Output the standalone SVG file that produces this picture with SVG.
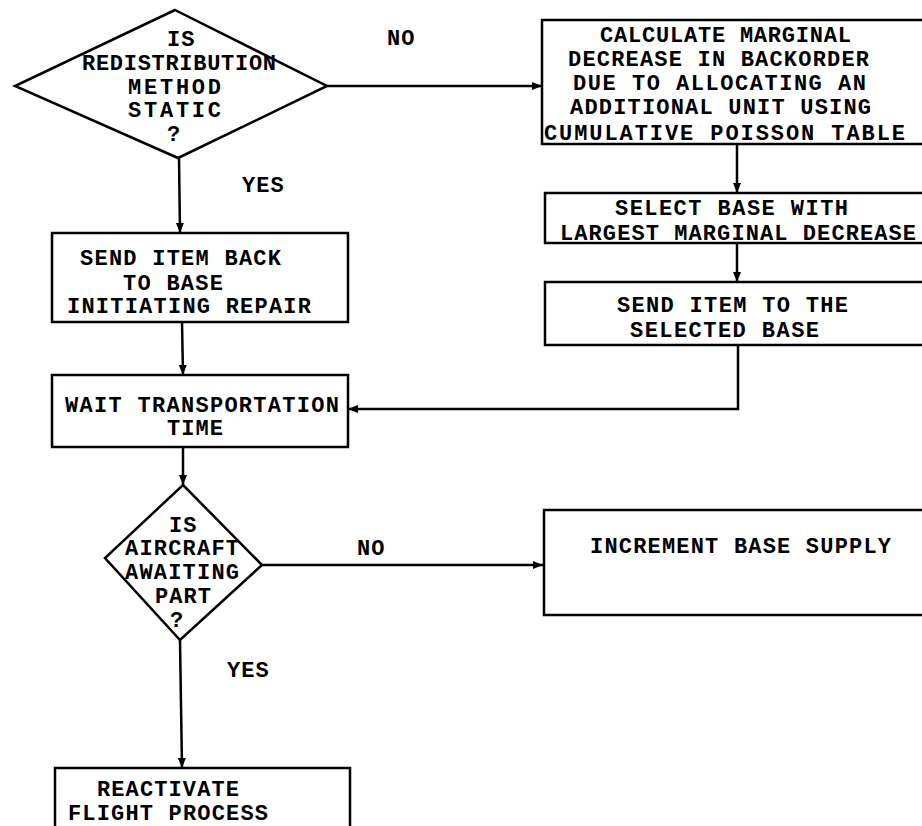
<svg xmlns="http://www.w3.org/2000/svg" width="922" height="826" viewBox="0 0 922 826">
<style>
.s{fill:none;stroke:#000;stroke-width:2.5;stroke-linejoin:miter}
.c{fill:none;stroke:#000;stroke-width:2.5}
text{font-family:"Liberation Mono","Courier New",monospace;font-weight:bold;font-size:22px;fill:#000;letter-spacing:1px}
</style>
<defs>
<marker id="ah" markerUnits="userSpaceOnUse" markerWidth="10" markerHeight="8" refX="10" refY="4" orient="auto">
<path d="M0,0 L10,4 L0,8 z" fill="#000"/>
</marker>
</defs>
<rect width="922" height="826" fill="#fff"/>

<g id="connectors">
<path class="c" d="M327,86 L542,86" marker-end="url(#ah)"/>
<path class="c" d="M179,158 L180,233" marker-end="url(#ah)"/>
<path class="c" d="M737,144 L737,193" marker-end="url(#ah)"/>
<path class="c" d="M737,243 L737,282" marker-end="url(#ah)"/>
<path class="c" d="M738,345 L738,409 L348,409" marker-end="url(#ah)"/>
<path class="c" d="M182,322 L183,375" marker-end="url(#ah)"/>
<path class="c" d="M183,447 L183,485" marker-end="url(#ah)"/>
<path class="c" d="M262,565 L543,565" marker-end="url(#ah)"/>
<path class="c" d="M180,640 L182,768" marker-end="url(#ah)"/>
<text x="387" y="45">NO</text>
<text x="242" y="192">YES</text>
<text x="357" y="555">NO</text>
<text x="227" y="677">YES</text>
</g>

<g id="d1">
<path class="s" d="M175,10 L327,86 L178,158 L15,86 Z"/>
<text x="167" y="46">IS</text>
<text x="82" y="70" textLength="195" lengthAdjust="spacing">REDISTRIBUTION</text>
<text x="128" y="94" textLength="94" lengthAdjust="spacing">METHOD</text>
<text x="128" y="117" textLength="94" lengthAdjust="spacing">STATIC</text>
<text x="167" y="141">?</text>
</g>

<g id="b1">
<rect class="s" x="542" y="20" width="400" height="124"/>
<text x="600" y="42" textLength="252" lengthAdjust="spacing">CALCULATE MARGINAL</text>
<text x="568" y="66" textLength="302" lengthAdjust="spacing">DECREASE IN BACKORDER</text>
<text x="573" y="90" textLength="294" lengthAdjust="spacing">DUE TO ALLOCATING AN</text>
<text x="570" y="114" textLength="302" lengthAdjust="spacing">ADDITIONAL UNIT USING</text>
<text x="544" y="140" textLength="362" lengthAdjust="spacing">CUMULATIVE POISSON TABLE</text>
</g>

<g id="b4">
<rect class="s" x="545" y="193" width="400" height="50"/>
<text x="615" y="215" textLength="234" lengthAdjust="spacing">SELECT BASE WITH</text>
<text x="560" y="240" textLength="357" lengthAdjust="spacing">LARGEST MARGINAL DECREASE</text>
</g>

<g id="b5">
<rect class="s" x="545" y="282" width="400" height="63"/>
<text x="617" y="312" textLength="232" lengthAdjust="spacing">SEND ITEM TO THE</text>
<text x="630" y="337" textLength="190" lengthAdjust="spacing">SELECTED BASE</text>
</g>

<g id="b2">
<rect class="s" x="52" y="233" width="296" height="89"/>
<text x="80" y="265" textLength="202" lengthAdjust="spacing">SEND ITEM BACK</text>
<text x="123" y="290" textLength="101" lengthAdjust="spacing">TO BASE</text>
<text x="67" y="313" textLength="245" lengthAdjust="spacing">INITIATING REPAIR</text>
</g>

<g id="b3">
<rect class="s" x="52" y="375" width="296" height="72"/>
<text x="65" y="412" textLength="275" lengthAdjust="spacing">WAIT TRANSPORTATION</text>
<text x="167" y="435" textLength="57" lengthAdjust="spacing">TIME</text>
</g>

<g id="d2">
<path class="s" d="M183,485 L262,565 L180,640 L105,558 Z"/>
<text x="169" y="532">IS</text>
<text x="125" y="555" textLength="115" lengthAdjust="spacing">AIRCRAFT</text>
<text x="125" y="579" textLength="115" lengthAdjust="spacing">AWAITING</text>
<text x="155" y="603" textLength="57" lengthAdjust="spacing">PART</text>
<text x="170" y="627">?</text>
</g>

<g id="b6">
<rect class="s" x="544" y="510" width="400" height="105"/>
<text x="590" y="553" textLength="302" lengthAdjust="spacing">INCREMENT BASE SUPPLY</text>
</g>

<g id="b7">
<rect class="s" x="55" y="768" width="295" height="80"/>
<text x="97" y="796" textLength="143" lengthAdjust="spacing">REACTIVATE</text>
<text x="68" y="820" textLength="201" lengthAdjust="spacing">FLIGHT PROCESS</text>
</g>
</svg>
